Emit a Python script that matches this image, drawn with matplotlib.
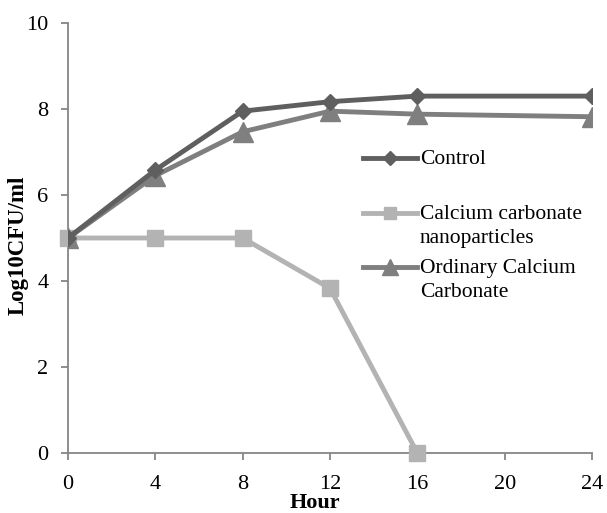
import matplotlib
matplotlib.use("Agg")
import matplotlib.pyplot as plt
from matplotlib.lines import Line2D

plt.rcParams['font.family'] = ['Liberation Serif', 'DejaVu Serif']

hours = [0, 4, 8, 12, 16, 24]
control = [5.0, 6.58, 7.95, 8.17, 8.3, 8.3]
nano_hours = [0, 4, 8, 12, 16]
nano = [5.0, 5.0, 5.0, 3.83, 0.0]
ordinary = [5.0, 6.45, 7.47, 7.95, 7.88, 7.82]

labels = ["Control", "Calcium carbonate\nnanoparticles", "Ordinary Calcium\nCarbonate"]
colors = ["#5f5f5f", "#b3b3b3", "#7f7f7f"]
x_ticks = [0, 4, 8, 12, 16, 20, 24]
y_ticks = [0, 2, 4, 6, 8, 10]

fig = plt.figure(figsize=(6.07, 5.13), dpi=100)
ax = fig.add_axes([68/607, 60/513, 524/607, 430/513])

ax.plot(hours, control, color=colors[0], lw=3.5, marker='D', ms=8.5, zorder=4)
ax.plot(nano_hours, nano, color=colors[1], lw=3.5, marker='s', ms=11, zorder=3, clip_on=False)
ax.plot(hours, ordinary, color=colors[2], lw=3.5, marker='^', ms=14, zorder=3)

ax.set_xlim(0, 24)
ax.set_ylim(0, 10)
ax.set_xticks(x_ticks)
ax.set_yticks(y_ticks)
for s in ['top', 'right']:
    ax.spines[s].set_visible(False)
for s in ['left', 'bottom']:
    ax.spines[s].set_color('#868686')
    ax.spines[s].set_linewidth(1.3)
ax.tick_params(axis='both', colors='#868686', width=1.3, length=5, labelsize=16, labelcolor='black')
ax.tick_params(axis='x', pad=11)
ax.tick_params(axis='y', pad=9)

ax.set_xlabel("Hour", fontsize=16, fontweight='bold')
ax.xaxis.set_label_coords((315 - 68) / 524, (453 - 493) / 430)
ax.set_ylabel("Log10CFU/ml", fontsize=16.5, fontweight='bold')
ax.yaxis.set_label_coords((29 - 68) / 524, (453 - 245) / 430)

# legend (manual layout)
markers = ['D', 's', '^']
msizes = [7, 9, 11]
ys = [158, 213, 267]
for lab, c, m, msz, yp in zip(labels, colors, markers, msizes, ys):
    yf = 1 - yp/513
    fig.add_artist(Line2D([363/607, 417/607], [yf, yf], color=c, lw=3.5,
                          transform=fig.transFigure))
    fig.add_artist(Line2D([390/607], [yf], color=c, marker=m, ms=msz,
                          transform=fig.transFigure))
    fig.text(420/607, yf + 8/513, lab, fontsize=15.5, va='top', ha='left',
             linespacing=1.35)

fig.savefig("out.png", dpi=100)
